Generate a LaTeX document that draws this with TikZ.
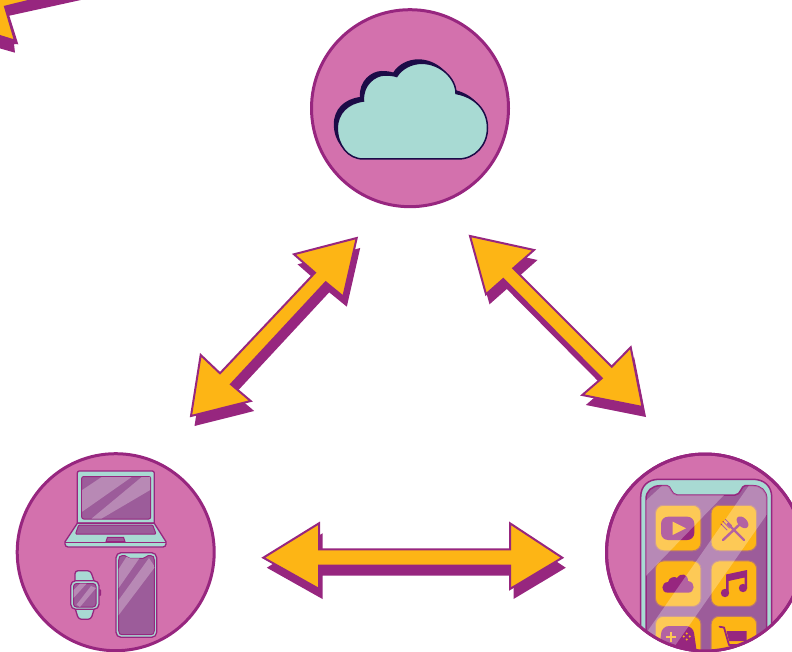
\documentclass[tikz,border=0pt]{standalone}
\definecolor{plumline}{HTML}{97267F}
\definecolor{discpink}{HTML}{D371AD}
\definecolor{arroworange}{HTML}{FDB515}
\definecolor{devteal}{HTML}{A8DAD3}
\definecolor{cloudnavy}{HTML}{1C0B47}
\definecolor{screenplum}{HTML}{9C5C9A}
\definecolor{glarelilac}{HTML}{B889B5}
\tikzset{
	disc/.style={circle,draw=plumline,fill=discpink,line width=3pt,minimum size=197pt,inner sep=0pt},
	arrowface/.style={draw=plumline,fill=arroworange,line width=2pt,line join=miter},
	arrowshade/.style={fill=plumline},
	device/.style={draw=plumline,fill=devteal,line width=1.3pt,line join=round},
	devscreen/.style={draw=plumline,fill=screenplum,line width=1pt},
	glare/.style={fill=glarelilac},
	apptile/.style={rectangle,rounded corners=8pt,draw=screenplum!70!arroworange,fill=arroworange,line width=1pt,minimum size=45.5pt,inner sep=0pt},
	appicon/.style={fill=plumline},
}
\newcommand{\dblarrow}[1]{
	\fill[arrowshade,shift={(3.5,10)}] #1;
	\draw[arrowface] #1;
}
\begin{document}
\begin{tikzpicture}[x=1pt,y=-1pt]
	\useasboundingbox (0,0) rectangle (792,652);
	\clip (0,0) rectangle (792,652);
	% arrow cut by the corner
	\fill[arrowshade] (-5,47) -- (15,52.7) -- (14,44) -- (18.3,44.3) -- (9.3,15.7) -- (90,-2) -- (-5,-5) -- cycle;
	\draw[arrowface] (-5,34.5) -- (15,40.7) -- (5,6.7) -- (36,-1) -- (36,-5) -- (-5,-5) -- cycle;
	% discs
	\node[disc] (clouddisc) at (410,108.2) {};
	\node[disc] (devdisc) at (115.7,552.2) {};
	\node[disc] (appdisc) at (705,552.5) {};
	% cloud
	\def\cloudpath{(363.3,159) .. controls (348,159) and (337.3,145) .. (337.3,128.3) .. controls (337.3,113) and (348,103) .. (363.5,101) .. controls (362,85) and (375,75) .. (385,75) .. controls (390,75) and (394,75.5) .. (396.7,76.5) .. controls (402,68) and (412,63.3) .. (421.7,63.3) .. controls (440,63.3) and (456,78) .. (456,93.5) .. controls (475,97) and (487.5,110) .. (487.5,128) .. controls (487.5,145) and (475,159) .. (458.3,159) -- cycle}
	\fill[cloudnavy,shift={(-3.5,-4)}] \cloudpath;
	\draw[cloudnavy,fill=devteal,line width=1.5pt] \cloudpath;
	% laptop
	\draw[device] (77.3,523) -- (77.3,473) arc (180:270:2) -- (152.3,471) arc (270:360:2) -- (154.3,523) -- cycle;
	\draw[devscreen,rounded corners=2pt] (81.7,476.5) rectangle (150.7,519);
	\fill[glare] (82.2,490) -- (101.7,477) -- (131.7,477) -- (82.2,511.7) -- cycle;
	\fill[glare] (141.7,477) -- (150.2,477) -- (150.2,490) -- (101.7,518.5) -- (91.7,518.5) -- cycle;
	\draw[device] (77.3,523.3) -- (154.3,523.3) -- (166,541.7) -- (166,544) arc (0:90:3) -- (68,547) arc (90:180:3) -- (65,541.7) -- cycle;
	\draw[devscreen,rounded corners=1pt] (78.7,525) -- (152.7,525) -- (156,534) -- (75.5,534) -- cycle;
	\draw[devscreen] (106,541.7) -- (107.5,537.3) -- (123.5,537.3) -- (125,541.7) -- cycle;
	\draw[plumline,line width=1pt] (65,542.3) -- (166,542.3);
	% handset
	\draw[device,rounded corners=5pt] (116,552.7) rectangle (156.7,637.3);
	\def\handset{(118.7,560) .. controls (118.7,557) and (120,555.7) .. (122,555.7) -- (125,555.7) .. controls (127,555.7) and (127,558.3) .. (130,558.3) -- (143,558.3) .. controls (146,558.3) and (146,555.7) .. (148,555.7) -- (151,555.7) .. controls (153,555.7) and (154.3,557) .. (154.3,560) -- (154.3,630.7) .. controls (154.3,633.5) and (153,634.7) .. (151,634.7) -- (122,634.7) .. controls (120,634.7) and (118.7,633.5) .. (118.7,630.7) -- cycle}
	\draw[devscreen] \handset;
	\begin{scope}
		\clip \handset;
		\fill[glare] (118,570) -- (127,556) -- (141,556) -- (118,589) -- cycle;
		\fill[glare] (149,558) -- (155,567) -- (118,616) -- (118,601) -- cycle;
	\end{scope}
	% watch
	\draw[device,rounded corners=3pt] (75,570.7) -- (90.5,570.7) -- (94.5,582) -- (94.5,608) -- (91,619.3) -- (78.5,619.3) -- (75,608) -- cycle;
	\fill[plumline,rounded corners=1pt] (98.5,589) rectangle (101,596);
	\draw[device,rounded corners=5pt] (70.7,580.7) rectangle (99,609.3);
	\draw[devscreen,rounded corners=3pt] (73.5,583.5) rectangle (96,607);
	\begin{scope}
		\clip[rounded corners=3pt] (73.5,583.5) rectangle (96,607);
		\fill[glare] (73.5,590) -- (80,583.5) -- (86.7,583.5) -- (73.5,598) -- cycle;
		\fill[glare] (91,586) -- (96,588) -- (80,607) -- (76.5,604.7) -- cycle;
	\end{scope}
	% apps
	\begin{scope}
		\clip (appdisc.center) circle (98);
		\draw[device,line width=1.5pt] (640.7,660) -- (640.7,497) .. controls (640.7,486) and (648,479.3) .. (659,479.3) -- (753,479.3) .. controls (764,479.3) and (771.7,486) .. (771.7,497) -- (771.7,660) -- cycle;
		\def\appscreen{(646,660) -- (646,499) .. controls (646,491) and (652,485.7) .. (660,485.7) -- (667,485.7) .. controls (671,485.7) and (671,495) .. (677,495) -- (735,495) .. controls (741,495) and (741,485.7) .. (745,485.7) -- (753,485.7) .. controls (761,485.7) and (766.7,491) .. (766.7,499) -- (766.7,660) -- cycle}
		\draw[devscreen,line width=1.5pt] \appscreen;
		\foreach \nm/\cx/\cy in {play/678.2/528,dish/733.9/528,sky/678.2/583.7,tune/733.9/583.7,game/678.2/639,cart/733.9/639}
			\node[apptile] (tile\nm) at (\cx,\cy) {};
		% play
		\fill[appicon,rounded corners=7pt] (661,516.7) rectangle (694.3,540);
		\fill[arroworange] (672.7,521.7) -- (686,528.3) -- (672.7,535) -- cycle;
		% fork and spoon
		\draw[plumline,line width=2.4pt,line cap=round] (728,524) -- (744,540);
		\draw[plumline,line width=1pt,line cap=round] (721,524) -- (727,530) (723,521.5) -- (729.5,528) (725.5,519.5) -- (731.5,525.5);
		\draw[plumline,line width=2.4pt,line cap=round] (723,540) -- (739,525);
		\fill[plumline,rotate around={-45:(742.5,522.3)}] (742.5,522.3) ellipse (7 and 4.5);
		% small cloud
		\fill[appicon] (668,592.7) .. controls (660,592.7) and (661,582) .. (668,582) .. controls (669,577) and (675,576) .. (677,578) .. controls (681,572) and (688,574) .. (688,581) .. controls (696,582) and (695,592.7) .. (688,592.7) -- cycle;
		% note
		\fill[appicon] (725,593) circle (4.2) (743,588) circle (4.2);
		\fill[appicon] (726,574.5) -- (747,570) -- (747,588) -- (744.5,588) -- (744.5,577.5) -- (728.5,581) -- (728.5,593) -- (726,593) -- cycle;
		% pad
		\fill[appicon,rounded corners=7pt] (658,660) -- (662,626) -- (693,626) -- (698,660) -- cycle;
		\draw[arroworange,line width=2pt] (666,637) -- (676,637) (671,632) -- (671,642);
		\fill[arroworange] (686.7,633.5) circle (1.2) (686.7,639.5) circle (1.2) (683.7,636.5) circle (1.2) (689.7,636.5) circle (1.2);
		% trolley
		\draw[plumline,line width=1.8pt,line cap=round,line join=round] (719.5,626.7) -- (724,627.5) -- (729,645) -- (747,645);
		\fill[appicon] (726.5,631) -- (746.7,631) -- (746.7,641) -- (729,641) -- cycle;
		% glass over the tiles
		\begin{scope}
			\clip \appscreen;
			\fill[white,opacity=.28] (640,506) -- (664,484) -- (730,484) -- (724,495) -- (640,582) -- cycle;
			\fill[white,opacity=.28] (750,484) -- (770,484) -- (770,510) -- (665,660) -- (640,660) -- (640,642) -- cycle;
		\end{scope}
	\end{scope}
	\draw[plumline,line width=3pt] (appdisc.center) circle (98.5);
	% arrows
	\dblarrow{(356.7,238) -- (343.3,296.7) -- (325.7,282.3) -- (231,384.3) -- (250.7,401) -- (191,416) -- (200.7,355) -- (220,373.3) -- (315,272.7) -- (294,254.3) -- cycle}
	\dblarrow{(470,236) -- (534,250) -- (513.3,268.3) -- (611.7,366.7) -- (630.7,347.3) -- (642.5,407) -- (582.3,395) -- (601.7,378.3) -- (503.3,279) -- (486,294.3) -- cycle}
	\dblarrow{(263.3,557.7) -- (319,523.3) -- (319,549.3) -- (510,549.3) -- (510,523.3) -- (562.3,557.7) -- (510,589) -- (510,565.7) -- (319,565.7) -- (319,589) -- cycle}
\end{tikzpicture}
\end{document}
